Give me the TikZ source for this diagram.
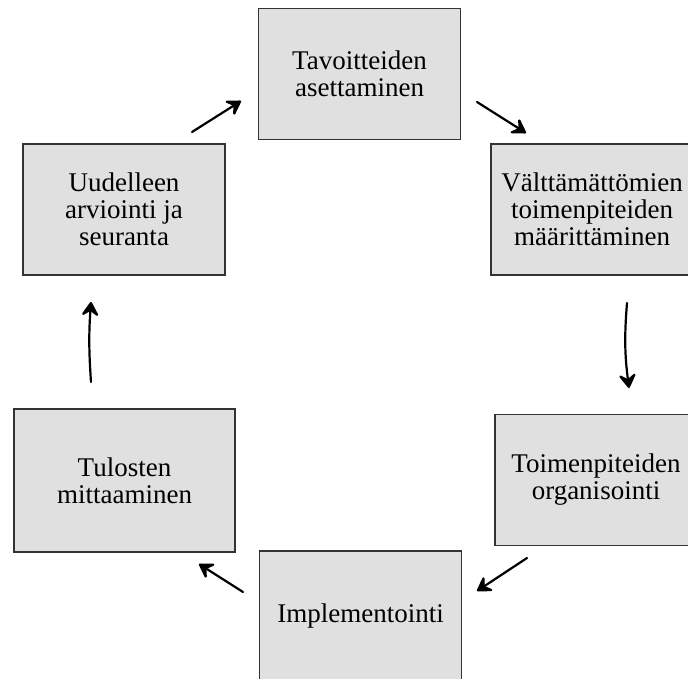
\documentclass[tikz,border=0pt]{standalone}
\usepackage{fontspec}
\setmainfont{Liberation Serif}
\usetikzlibrary{arrows.meta}

\begin{document}
\begin{tikzpicture}[x=1pt,y=-1pt]
        \tikzset{box/.style={draw=black!80,line width=1.5pt,fill=black!12,
                minimum width=202pt,minimum height=131pt,align=center,
                inner sep=0pt,font=\fontsize{27}{27}\selectfont},
            arr/.style={line width=2.2pt,line cap=round,
                -{Stealth[length=17pt,width=21pt,inset=7pt,round]}}}
        \useasboundingbox (0,0) rectangle (688,679);
        \node[box] (tav) at (359.5,74) {Tavoitteiden\\asettaminen};
        \node[box] (valt) at (592,209.5) {Välttämättömien\\toimenpiteiden\\määrittäminen};
        \node[box] (org) at (596,480) {Toimenpiteiden\\organisointi};
        \node[box] (imp) at (360.5,616.5) {Implementointi};
        \node[box,minimum width=221pt,minimum height=143pt] (tul) at (124.5,480.5) {Tulosten\\mittaaminen};
        \node[box] (uud) at (124,209.5) {Uudelleen\\arviointi ja\\seuranta};
        % free arrow ends
        \coordinate (a1) at (192,132); \coordinate (b1) at (241,101);
        \coordinate (a2) at (477,102); \coordinate (b2) at (526,133);
        \coordinate (a3) at (627,303); \coordinate (b3) at (629,388);
        \coordinate (a4) at (527,558); \coordinate (b4) at (477,591);
        \coordinate (a5) at (243,592); \coordinate (b5) at (199,564);
        \coordinate (a6) at (91,382);  \coordinate (b6) at (91,302);
        \draw[arr] (a1) -- (b1);
        \draw[arr] (a2) -- (b2);
        \draw[arr] (a3) to[bend right=6] (b3);
        \draw[arr] (a4) -- (b4);
        \draw[arr] (a5) -- (b5);
        \draw[arr] (a6) to[bend left=4] (b6);
    \end{tikzpicture}
\end{document}
